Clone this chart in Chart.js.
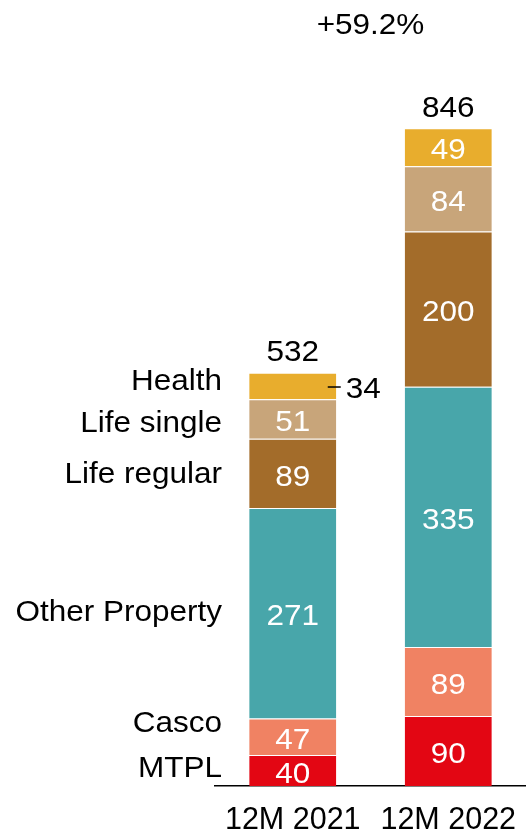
<!DOCTYPE html>
<html>
<head>
<meta charset="utf-8">
<script src="https://cdn.jsdelivr.net/npm/chart.js@4.4.1/dist/chart.umd.min.js"></script>
<style>
  html, body { margin: 0; padding: 0; background: #ffffff; }
  #wrap { width: 526px; height: 832px; position: relative; }
</style>
</head>
<body>
<div id="wrap"><canvas id="chart"></canvas></div>
<script>
// values
const categories = ["12M 2021", "12M 2022"];
const seriesNames = ["MTPL", "Casco", "Other Property", "Life regular", "Life single", "Health"];
const mtpl = [40, 90];
const casco = [47, 89];
const otherProperty = [271, 335];
const lifeRegular = [89, 200];
const lifeSingle = [51, 84];
const health = [34, 49];
const totals = [532, 846];
const growthLabel = "+59.2%";

const seriesValues = [mtpl, casco, otherProperty, lifeRegular, lifeSingle, health];
const seriesColors = ["#E30613", "#F08263", "#48A6AA", "#A36C2A", "#C8A57A", "#E8AD2D"];

const FONT = "Liberation Sans, Arial, sans-serif";

function drawText(ctx, txt, x, y, align, color) {
  ctx.save();
  ctx.font = "30px " + FONT;
  ctx.fillStyle = color;
  ctx.textBaseline = "middle";
  ctx.translate(x, y + 2);
  ctx.scale(1.05, 1);
  ctx.textAlign = align;
  ctx.fillText(txt, 0, 0);
  ctx.restore();
}

const labelPlugin = {
  id: "labels",
  afterDatasetsDraw(chart) {
    const ctx = chart.ctx;
    const ys = chart.scales.y;
    // value labels in the segments
    chart.data.datasets.forEach(function (ds, di) {
      const meta = chart.getDatasetMeta(di);
      meta.data.forEach(function (bar, i) {
        const v = ds.data[i];
        const mid = (bar.y + bar.base) / 2;
        if (di == 5 && i == 0) {
          // small Health segment, labelled outside
          ctx.save();
          ctx.strokeStyle = "#000";
          ctx.lineWidth = 1.5;
          ctx.beginPath();
          ctx.moveTo(bar.x + 35, mid + 1);
          ctx.lineTo(bar.x + 48, mid + 1);
          ctx.stroke();
          ctx.restore();
          drawText(ctx, String(v), bar.x + 53, mid + 2, "left", "#000");
        } else {
          drawText(ctx, String(v), bar.x, mid + 2, "center", "#fff");
        }
      });
    });
    // totals above the bars
    const meta0 = chart.getDatasetMeta(0);
    totals.forEach(function (t, i) {
      drawText(ctx, String(t), meta0.data[i].x, ys.getPixelForValue(t) - 22, "center", "#000");
    });
    // series names at the left of the first bar
    const nudge = [-4, -15, -2, -1, 3, -6];
    let cum = 0;
    seriesValues.forEach(function (vals, di) {
      const mid = ys.getPixelForValue(cum + vals[0] / 2);
      cum += vals[0];
      drawText(ctx, seriesNames[di], 222, mid + nudge[di], "right", "#000");
    });
    // growth
    const x0 = meta0.data[0].x, x1 = meta0.data[1].x;
    drawText(ctx, growthLabel, (x0 + x1) / 2, 24, "center", "#000");
  }
};

new Chart("chart", {
  type: "bar",
  data: {
    labels: categories,
    datasets: seriesNames.map(function (name, i) {
      return {
        label: name,
        data: seriesValues[i],
        backgroundColor: seriesColors[i],
        borderColor: "rgba(255,255,255,0.45)",
        borderWidth: { top: 1 },
        borderSkipped: false,
        barPercentage: 0.56,
        categoryPercentage: 1
      };
    })
  },
  options: {
    responsive: true,
    maintainAspectRatio: false,
    animation: false,
    layout: { padding: { left: 215, right: 0, top: 0, bottom: 0 } },
    plugins: { legend: { display: false }, tooltip: { enabled: false } },
    scales: {
      x: {
        stacked: true,
        grid: { display: false, drawTicks: false },
        border: { display: true, color: "#000", width: 1.5 },
        ticks: { color: "#000", padding: 16, maxRotation: 0, font: { family: FONT, size: 30.5 } },
        afterFit: function (scale) {
          scale.height = 46;
          scale.paddingLeft = 0;
          scale.paddingRight = 0;
        }
      },
      y: {
        stacked: true,
        display: false,
        min: 0,
        max: 1012
      }
    }
  },
  plugins: [labelPlugin]
});
</script>
</body>
</html>
